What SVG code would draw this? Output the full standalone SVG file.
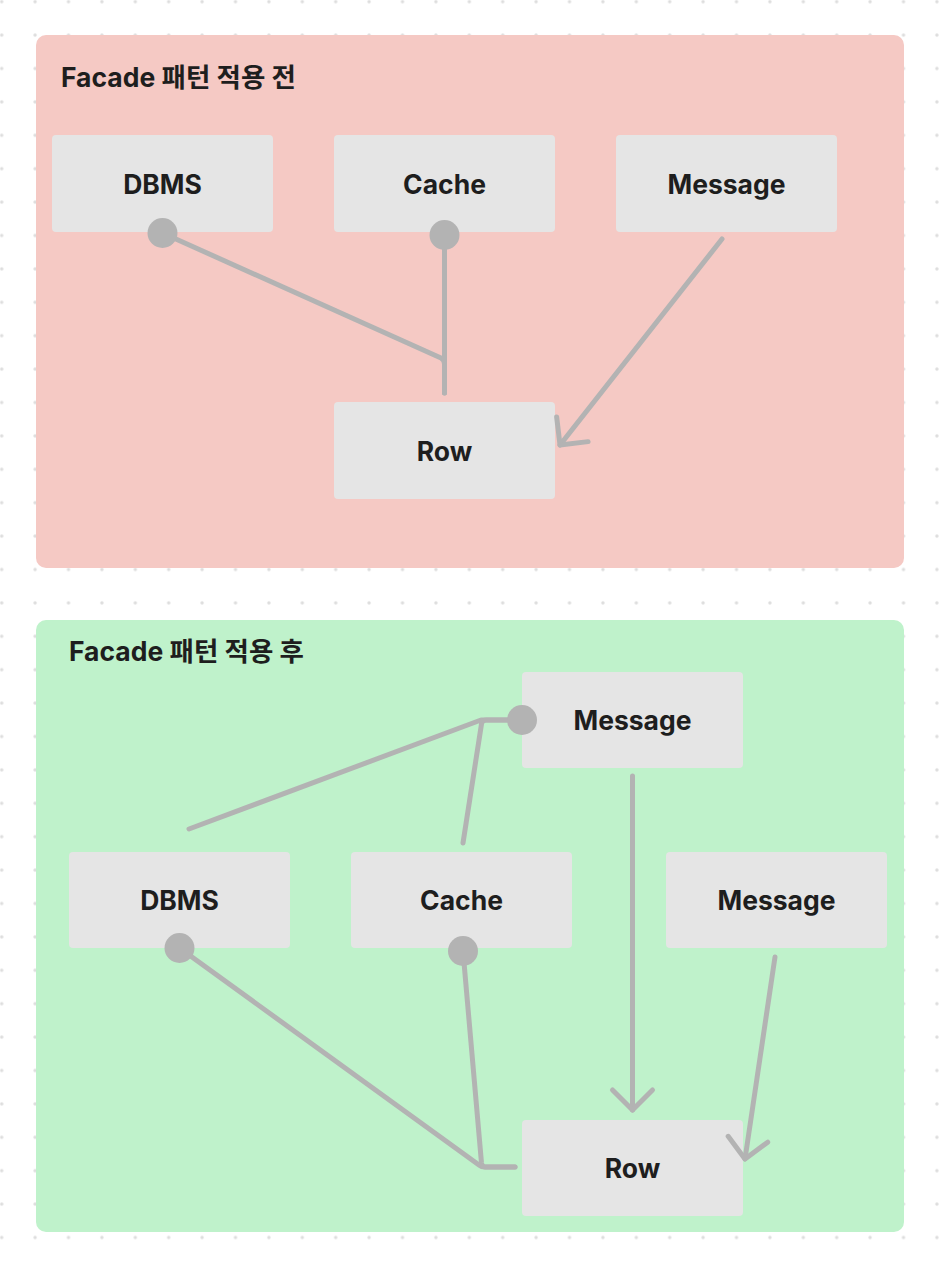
<svg xmlns="http://www.w3.org/2000/svg" width="944" height="1268" viewBox="0 0 944 1268">
<style>
.panel-title{font-family:Inter,"Noto Sans CJK KR",sans-serif;font-weight:700;font-size:26.5px;fill:#1e1e1e}
.node rect{fill:#e5e5e5}
.label{font-family:Inter,"Noto Sans CJK KR",sans-serif;font-weight:700;font-size:26.5px;fill:#1e1e1e;text-anchor:middle;dominant-baseline:central}
.conn{fill:none;stroke:#b3b3b3;stroke-width:5;stroke-linecap:round;stroke-linejoin:round}
.dot{fill:#b3b3b3}
</style>
<defs>
<pattern id="grid" x="1.7" y="1.7" width="33.4" height="33.4" patternUnits="userSpaceOnUse">
<circle cx="0" cy="0" r="1.7" fill="#dddddd"/>
<circle cx="33.4" cy="0" r="1.7" fill="#dddddd"/>
<circle cx="0" cy="33.4" r="1.7" fill="#dddddd"/>
<circle cx="33.4" cy="33.4" r="1.7" fill="#dddddd"/>
</pattern>
<marker id="arrow" markerUnits="userSpaceOnUse" markerWidth="60" markerHeight="60" refX="0" refY="0" orient="auto" overflow="visible" viewBox="-30 -30 60 60">
<path d="M -20 -20 L 0 0 L -20 20" fill="none" stroke="#b3b3b3" stroke-width="5" stroke-linecap="round" stroke-linejoin="round"/>
</marker>
</defs>
<rect x="0" y="0" width="944" height="1268" fill="#ffffff"/>
<rect x="0" y="0" width="944" height="1268" fill="url(#grid)"/>

<g id="panel-before">
<rect x="36" y="35" width="868" height="533" rx="10" fill="#f5c9c4"/>
<text class="panel-title" x="61" y="87">Facade 패턴 적용 전</text>
</g>
<g id="panel-after">
<rect x="36" y="620" width="868" height="612" rx="10" fill="#bff2cb"/>
<text class="panel-title" x="69" y="661">Facade 패턴 적용 후</text>
</g>

<g id="a-dbms" class="node"><rect x="52" y="135" width="221" height="97" rx="4"/><text class="label" x="162.5" y="184">DBMS</text></g>
<g id="a-cache" class="node"><rect x="334" y="135" width="221" height="97" rx="4"/><text class="label" x="444.5" y="184">Cache</text></g>
<g id="a-message" class="node"><rect x="616" y="135" width="221" height="97" rx="4"/><text class="label" x="726.5" y="184">Message</text></g>
<g id="a-row" class="node"><rect x="334" y="402" width="221" height="97" rx="4"/><text class="label" x="444.5" y="451">Row</text></g>

<g id="b-message" class="node"><rect x="522" y="672" width="221" height="96" rx="4"/><text class="label" x="632.5" y="720">Message</text></g>
<g id="b-dbms" class="node"><rect x="69" y="852" width="221" height="96" rx="4"/><text class="label" x="179.5" y="900">DBMS</text></g>
<g id="b-cache" class="node"><rect x="351" y="852" width="221" height="96" rx="4"/><text class="label" x="461.5" y="900">Cache</text></g>
<g id="b-message2" class="node"><rect x="666" y="852" width="221" height="96" rx="4"/><text class="label" x="776.5" y="900">Message</text></g>
<g id="b-row" class="node"><rect x="522" y="1120" width="221" height="96" rx="4"/><text class="label" x="632.5" y="1168">Row</text></g>

<g id="connectors">
<path class="conn" d="M 162.5 233 L 441 358 Q 444.5 360 444.5 364 L 444.5 393"/>
<path class="conn" d="M 444.5 235 L 444.5 393"/>
<circle class="dot" cx="162.5" cy="233" r="15"/>
<circle class="dot" cx="444.5" cy="235" r="15"/>
<path class="conn" d="M 722 239 L 560 445" marker-end="url(#arrow)"/>

<path class="conn" d="M 522 720 L 481 720 L 189 829"/>
<path class="conn" d="M 522 720 L 486 720 Q 482 720 481.5 724 L 463 843"/>
<circle class="dot" cx="522" cy="720" r="15"/>
<path class="conn" d="M 179.5 948 L 479 1165 Q 481.5 1167 485 1167 L 515 1167"/>
<path class="conn" d="M 463 951 L 481.5 1163 Q 482 1167 485 1167 L 515 1167"/>
<circle class="dot" cx="179.5" cy="948" r="15"/>
<circle class="dot" cx="463" cy="951" r="15"/>
<path class="conn" d="M 632.5 776 L 632.5 1110" marker-end="url(#arrow)"/>
<path class="conn" d="M 775 957 L 745 1159" marker-end="url(#arrow)"/>
</g>
</svg>
